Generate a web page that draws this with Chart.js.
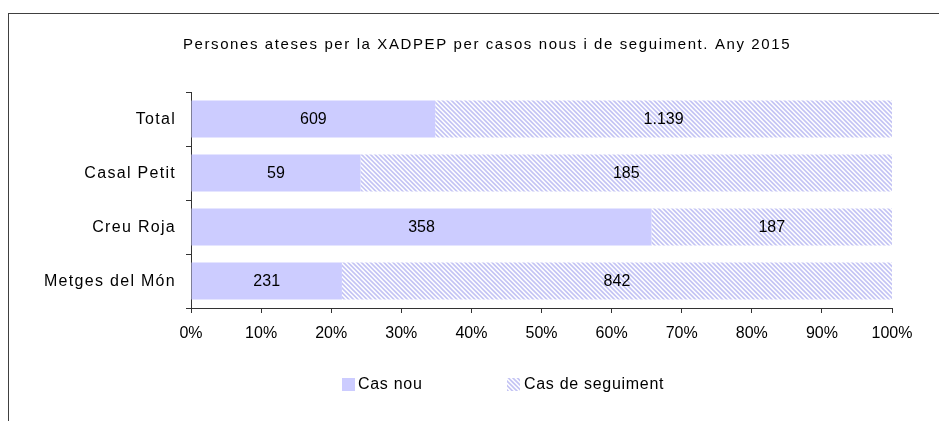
<!DOCTYPE html>
<html>
<head>
<meta charset="utf-8">
<script src="https://cdn.jsdelivr.net/npm/chart.js@4.4.0/dist/chart.umd.min.js"></script>
<style>
    html, body { margin: 0; padding: 0; background: #fff; }
    #wrap { position: relative; width: 939px; height: 421px; overflow: hidden; }
    #marc { position: absolute; left: 8px; top: 13px; width: 960px; height: 440px; border-top: 1px solid #404040; border-left: 1px solid #404040; }
    canvas { position: absolute; left: 0; top: 0; }
</style>
</head>
<body>
<div id="wrap">
    <div id="marc"></div>
    <canvas id="grafic" width="939" height="421"></canvas>
</div>
<script>
// Dades llegides del gràfic
const titol = 'Persones ateses per la XADPEP per casos nous i de seguiment. Any 2015';
const categories = ['Total', 'Casal Petit', 'Creu Roja', 'Metges del Món'];
const casNou = [609, 59, 358, 231];
const casSeguiment = [1139, 185, 187, 842];
const etiquetesX = ['0%', '10%', '20%', '30%', '40%', '50%', '60%', '70%', '80%', '90%', '100%'];
const nomsSeries = ['Cas nou', 'Cas de seguiment'];

const FONT = 'Arial, "Liberation Sans", sans-serif';
const COLOR_NOU = '#ccccff';

// Percentatges per a les barres apilades al 100%
const totals = casNou.map((v, i) => v + casSeguiment[i]);
const pctNou = casNou.map((v, i) => v / totals[i] * 100);
const pctSeguiment = casSeguiment.map((v, i) => v / totals[i] * 100);

// Format català amb punt de milers
function formatNum(v) {
    return String(v).replace(/\B(?=(\d{3})+(?!\d))/g, '.');
}

// Patró de ratlles diagonals
function crearPatro() {
    const c = document.createElement('canvas');
    c.width = 9; c.height = 9;
    const x = c.getContext('2d');
    x.fillStyle = '#fff';
    x.fillRect(0, 0, 9, 9);
    x.strokeStyle = '#c4c4f4';
    x.lineWidth = 1.6;
    x.beginPath();
    [-9, -4.5, 0, 4.5, 9].forEach(o => {
        x.moveTo(o - 1, -1);
        x.lineTo(o + 10, 10);
    });
    x.stroke();
    return x.createPattern(c, 'repeat');
}
const patro = crearPatro();

// Etiquetes de categoria, etiquetes dins de les barres, títol i llegenda
const dibuixExtra = {
    id: 'dibuixExtra',
    afterDatasetsDraw(chart) {
        const ctx = chart.ctx;
        ctx.save();
        ctx.font = '16px ' + FONT;
        ctx.fillStyle = '#000';
        ctx.textAlign = 'center';
        ctx.textBaseline = 'middle';
        const valors = [casNou, casSeguiment];
        chart.data.datasets.forEach((ds, d) => {
            chart.getDatasetMeta(d).data.forEach((bar, i) => {
                ctx.fillText(formatNum(valors[d][i]), (bar.x + bar.base) / 2, bar.y + 1);
            });
        });
        ctx.restore();
    },
    afterDraw(chart) {
        const ctx = chart.ctx;
        const y = chart.scales.y;
        ctx.save();
        // etiquetes de l'eix Y
        ctx.font = '16px ' + FONT;
        ctx.fillStyle = '#000';
        ctx.textAlign = 'right';
        ctx.textBaseline = 'middle';
        ctx.letterSpacing = '1.3px';
        categories.forEach((c, i) => {
            ctx.fillText(c, y.right - 15, y.getPixelForValue(i) + 1);
        });
        // títol
        ctx.font = '15px ' + FONT;
        ctx.textAlign = 'center';
        ctx.letterSpacing = '1.6px';
        ctx.fillText(titol, 487, 45);
        // llegenda
        ctx.font = '16px ' + FONT;
        ctx.textAlign = 'left';
        ctx.letterSpacing = '0.7px';
        ctx.fillStyle = COLOR_NOU;
        ctx.fillRect(342, 378, 13, 13);
        ctx.fillStyle = patro;
        ctx.fillRect(507, 378, 13, 13);
        ctx.fillStyle = '#000';
        ctx.fillText(nomsSeries[0], 358, 385);
        ctx.fillText(nomsSeries[1], 524, 385);
        ctx.restore();
    }
};

const ctx = document.getElementById('grafic').getContext('2d');
new Chart(ctx, {
    type: 'bar',
    data: {
        labels: categories,
        datasets: [{
            label: nomsSeries[0],
            data: pctNou,
            backgroundColor: COLOR_NOU,
            barPercentage: 0.685,
            categoryPercentage: 1
        }, {
            label: nomsSeries[1],
            data: pctSeguiment,
            backgroundColor: patro,
            barPercentage: 0.685,
            categoryPercentage: 1
        }]
    },
    options: {
        indexAxis: 'y',
        responsive: false,
        animation: false,
        events: [],
        layout: { padding: { top: 92, right: 47, bottom: 0, left: 0 } },
        plugins: {
            legend: { display: false },
            title: { display: false },
            tooltip: { enabled: false }
        },
        scales: {
            x: {
                stacked: true,
                min: 0,
                max: 100,
                afterFit(scale) { scale.height = 113; },
                grid: { drawOnChartArea: false, tickLength: 5, color: '#333' },
                border: { color: '#333' },
                ticks: {
                    stepSize: 10,
                    padding: 11,
                    color: '#000',
                    font: { family: FONT, size: 16 },
                    callback: (v, i) => etiquetesX[i]
                }
            },
            y: {
                stacked: true,
                afterFit(scale) { scale.width = 191; },
                grid: { offset: true, drawOnChartArea: false, tickLength: 5, color: '#333' },
                border: { color: '#333' },
                ticks: { display: false }
            }
        }
    },
    plugins: [dibuixExtra]
});
</script>
</body>
</html>
